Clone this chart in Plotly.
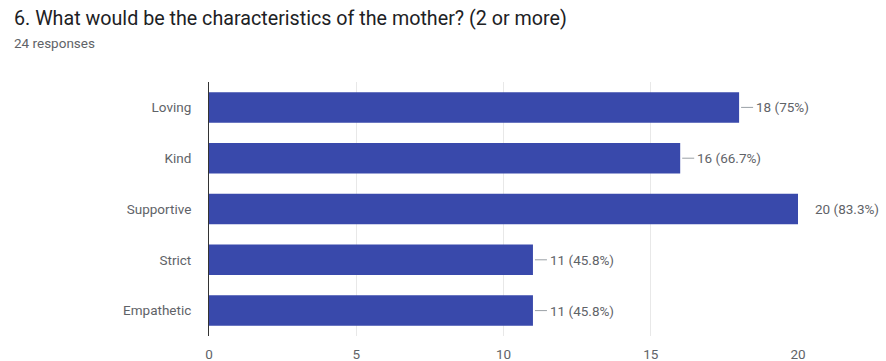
import plotly.graph_objects as go

# Survey question 6: characteristics of the mother (multiple choice, 24 responses)
categories = ["Loving", "Kind", "Supportive", "Strict", "Empathetic"]
counts = [18, 16, 20, 11, 11]
total_responses = 24
tick_values = [0, 5, 10, 15, 20]

BAR_COLOR = "#3949ab"
TEXT_COLOR = "#5f6368"
FONT = "Roboto, Arial, sans-serif"

labels = [f"{c} ({round(c / total_responses * 100, 1):g}%)" for c in counts]

fig = go.Figure(
    go.Bar(
        x=counts,
        y=categories,
        orientation="h",
        marker=dict(color=BAR_COLOR, line=dict(width=0)),
        hoverinfo="skip",
    )
)

x_max = max(tick_values)
for cat, val, lab in zip(categories, counts, labels):
    if val < x_max:
        # short leader line from bar end to the label
        fig.add_shape(
            type="line",
            xref="x", yref="y",
            xsizemode="pixel", xanchor=val,
            x0=2, x1=14,
            y0=cat, y1=cat,
            line=dict(color="#9aa0a6", width=1),
        )
    fig.add_annotation(
        x=val, y=cat, xref="x", yref="y",
        text=lab, showarrow=False,
        xanchor="left", xshift=15,
        font=dict(family=FONT, size=13.5, color=TEXT_COLOR),
    )

fig.add_annotation(
    x=12, y=18, xref="paper", yref="paper", xanchor="left", yanchor="middle",
    text="6. What would be the characteristics of the mother? (2 or more)",
    showarrow=False, font=dict(family=FONT, size=19.7, color="#202124"),
)
fig.add_annotation(
    x=12, y=43, xref="paper", yref="paper", xanchor="left", yanchor="middle",
    text=f"{total_responses} responses",
    showarrow=False, font=dict(family=FONT, size=13.5, color=TEXT_COLOR),
)

# annotations above use pixel positions; convert to paper coords below
W, H = 886, 361
ML, MR, MT, MB = 209, 88, 82, 25
pw, ph = W - ML - MR, H - MT - MB
for ann in fig.layout.annotations[-2:]:
    ann.x = (ann.x - ML) / pw
    ann.y = 1 + (MT - ann.y) / ph

fig.update_layout(
    width=W, height=H,
    margin=dict(l=ML, r=MR, t=MT, b=MB),
    paper_bgcolor="white", plot_bgcolor="white",
    bargap=0.4,
    showlegend=False,
    font=dict(family=FONT, size=13.5, color=TEXT_COLOR),
    xaxis=dict(
        range=[0, x_max], tickvals=tick_values,
        showgrid=True, gridcolor="#e8e8e8", gridwidth=1,
        zeroline=False, showline=False, ticks="",
        ticklabelstandoff=8, automargin=False,
        tickfont=dict(family=FONT, size=13.5, color=TEXT_COLOR),
        fixedrange=True,
    ),
    yaxis=dict(
        categoryorder="array", categoryarray=categories, autorange="reversed",
        showgrid=False, zeroline=False, showline=True, linecolor="#333333",
        linewidth=1, ticks="", ticklabelstandoff=14, automargin=False,
        tickfont=dict(family=FONT, size=13.5, color=TEXT_COLOR),
        fixedrange=True,
    ),
)

fig.write_html("out.html")
